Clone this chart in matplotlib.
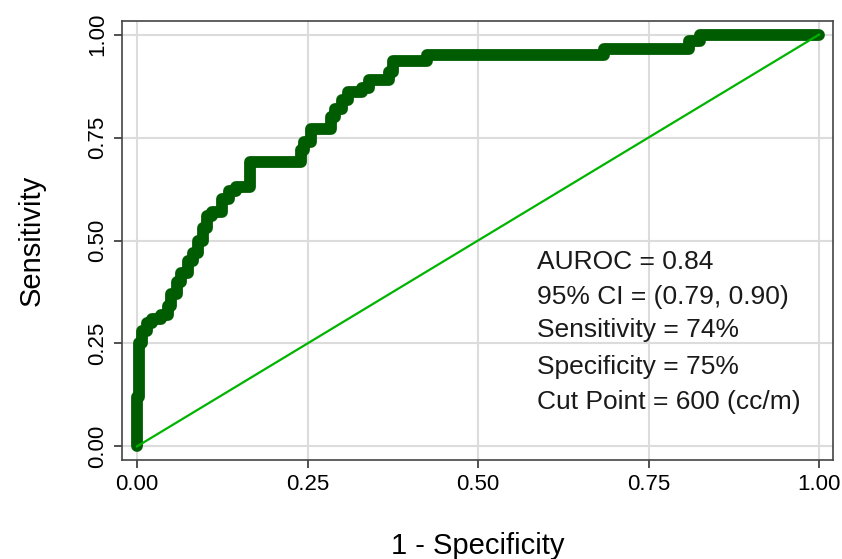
import matplotlib.pyplot as plt
import numpy as np

plt.rcParams['font.family'] = ['Liberation Sans', 'DejaVu Sans']

# ROC curve vertices (1 - specificity, sensitivity)
fpr = [0.0, 0.0, 0.003, 0.003, 0.008, 0.008, 0.015, 0.015, 0.022, 0.022,
       0.035, 0.035, 0.045, 0.045, 0.05, 0.05, 0.058, 0.058, 0.065, 0.065,
       0.075, 0.075, 0.082, 0.082, 0.09, 0.09, 0.097, 0.097, 0.103, 0.103,
       0.11, 0.11, 0.125, 0.125, 0.135, 0.135, 0.145, 0.145, 0.165, 0.165,
       0.24, 0.24, 0.245, 0.245, 0.255, 0.255, 0.285, 0.285, 0.29, 0.29,
       0.30, 0.30, 0.31, 0.31, 0.33, 0.33, 0.34, 0.34, 0.37, 0.37,
       0.375, 0.375, 0.425, 0.425, 0.685, 0.685, 0.81, 0.81, 0.825, 0.825, 1.0]
tpr = [0.0, 0.12, 0.12, 0.25, 0.25, 0.28, 0.28, 0.30, 0.30, 0.31,
       0.31, 0.32, 0.32, 0.34, 0.34, 0.37, 0.37, 0.40, 0.40, 0.42,
       0.42, 0.45, 0.45, 0.47, 0.47, 0.50, 0.50, 0.53, 0.53, 0.56,
       0.56, 0.57, 0.57, 0.60, 0.60, 0.62, 0.62, 0.63, 0.63, 0.69,
       0.69, 0.72, 0.72, 0.74, 0.74, 0.77, 0.77, 0.80, 0.80, 0.82,
       0.82, 0.84, 0.84, 0.86, 0.86, 0.87, 0.87, 0.89, 0.89, 0.91,
       0.91, 0.935, 0.935, 0.95, 0.95, 0.965, 0.965, 0.985, 0.985, 1.0, 1.0]

ref_line = [0.0, 1.0]
ticks = [0.0, 0.25, 0.50, 0.75, 1.00]
tick_labels = ['0.00', '0.25', '0.50', '0.75', '1.00']
stats = ['AUROC = 0.84', '95% CI = (0.79, 0.90)', 'Sensitivity = 74%',
         'Specificity = 75%', 'Cut Point = 600 (cc/m)']

fig = plt.figure(figsize=(8.42, 5.59), dpi=100)
ax = fig.add_axes([0.1449, 0.1771, 0.8444, 0.7853])

ax.plot(fpr, tpr, color='#005c00', lw=8.5, solid_joinstyle='round',
        solid_capstyle='round', zorder=3)
ax.plot(ref_line, ref_line, color='#00b400', lw=1.6, zorder=4)

ax.set_xlim(-0.022, 1.0205)
ax.set_ylim(-0.033, 1.033)
ax.set_xticks(ticks)
ax.set_xticklabels(tick_labels)
ax.set_yticks(ticks)
ax.set_yticklabels(tick_labels, rotation=90, va='center')
ax.tick_params(direction='out', length=6, width=1.2, labelsize=16, color='#333333', pad=4)
ax.grid(True, color='#dcdcdc', lw=1.5)
ax.set_axisbelow(True)
for s in ax.spines.values():
    s.set_color('#444444')
    s.set_linewidth(1.2)

ax.set_xlabel('1 - Specificity', fontsize=21, labelpad=27)
ax.set_ylabel('Sensitivity', fontsize=21, labelpad=30)

ys = [0.448, 0.363, 0.283, 0.193, 0.108]
for txt, yy in zip(stats, ys):
    ax.text(0.587, yy, txt, fontsize=19, va='center', ha='left',
            color='#1a1a1a', zorder=5)

fig.savefig('out.png', dpi=100)
